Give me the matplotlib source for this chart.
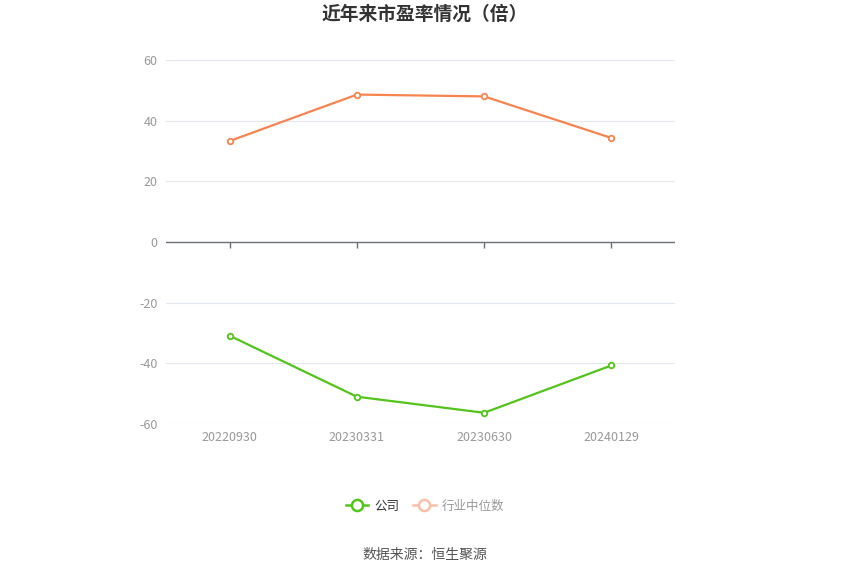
import matplotlib
matplotlib.use("Agg")
import matplotlib.pyplot as plt
from matplotlib.lines import Line2D

plt.rcParams['font.family'] = ['Noto Sans CJK SC', 'DejaVu Sans']
plt.rcParams['axes.unicode_minus'] = False

# data
dates = ['20220930', '20230331', '20230630', '20240129']
company_pe = [-30.9, -51.0, -56.3, -40.7]
industry_pe = [33.3, 48.6, 48.0, 34.3]
y_ticks = [-60, -40, -20, 0, 20, 40, 60]

green = '#52c41a'
orange = '#f7844e'

fig = plt.figure(figsize=(8.5, 5.75), dpi=100)
ax = fig.add_axes([166 / 850, 1 - 424 / 575, 509 / 850, 364 / 575])

x = list(range(len(dates)))
ax.plot(x, industry_pe, color=orange, lw=1.6, marker='o', ms=4,
        mfc='white', mec=orange, mew=1.3, zorder=3)
ax.plot(x, company_pe, color=green, lw=1.6, marker='o', ms=4,
        mfc='white', mec=green, mew=1.3, zorder=3)

ax.set_xlim(-0.5, len(dates) - 0.5)
ax.set_ylim(-60, 60)
ax.set_yticks(y_ticks)
ax.set_xticks(x)
ax.set_xticklabels(dates)
ax.grid(axis='y', color='#e3e7ef', lw=0.8)
ax.set_axisbelow(True)
for s in ax.spines.values():
    s.set_visible(False)
ax.tick_params(axis='both', length=0, colors='#999999', labelsize=9)
ax.tick_params(axis='y', pad=6)
ax.tick_params(axis='x', pad=5)

# zero axis line with ticks hanging below it
ax.axhline(0, color='#6e7079', lw=1, zorder=2)
ax.vlines(x, 0.5 - 6 / 364, 0.5, transform=ax.get_xaxis_transform(),
          color='#6e7079', lw=1)

fig.text(0.5, 1 - 14 / 575, '近年来市盈率情况（倍）', ha='center', va='center',
         fontsize=13.5, fontweight='bold', color='#333333')

handles = [
    Line2D([0], [0], color=green, lw=1.8, marker='o', ms=8, mfc='white', mec=green, mew=1.8),
    Line2D([0], [0], color='#fcc0a4', lw=1.8, marker='o', ms=8, mfc='white', mec='#fcc0a4', mew=1.8),
]
leg = fig.legend(handles, ['公司', '行业中位数'], loc='center', ncol=2,
                 bbox_to_anchor=(0.5, 1 - 506 / 575), frameon=False, fontsize=9,
                 handlelength=1.8, columnspacing=1.1, handletextpad=0.5)
leg.get_texts()[0].set_color('#333333')
leg.get_texts()[1].set_color('#999999')

fig.text(0.5, 1 - 555 / 575, '数据来源：恒生聚源', ha='center', va='center',
         fontsize=10, color='#555555')

fig.savefig('out.png', dpi=100)
